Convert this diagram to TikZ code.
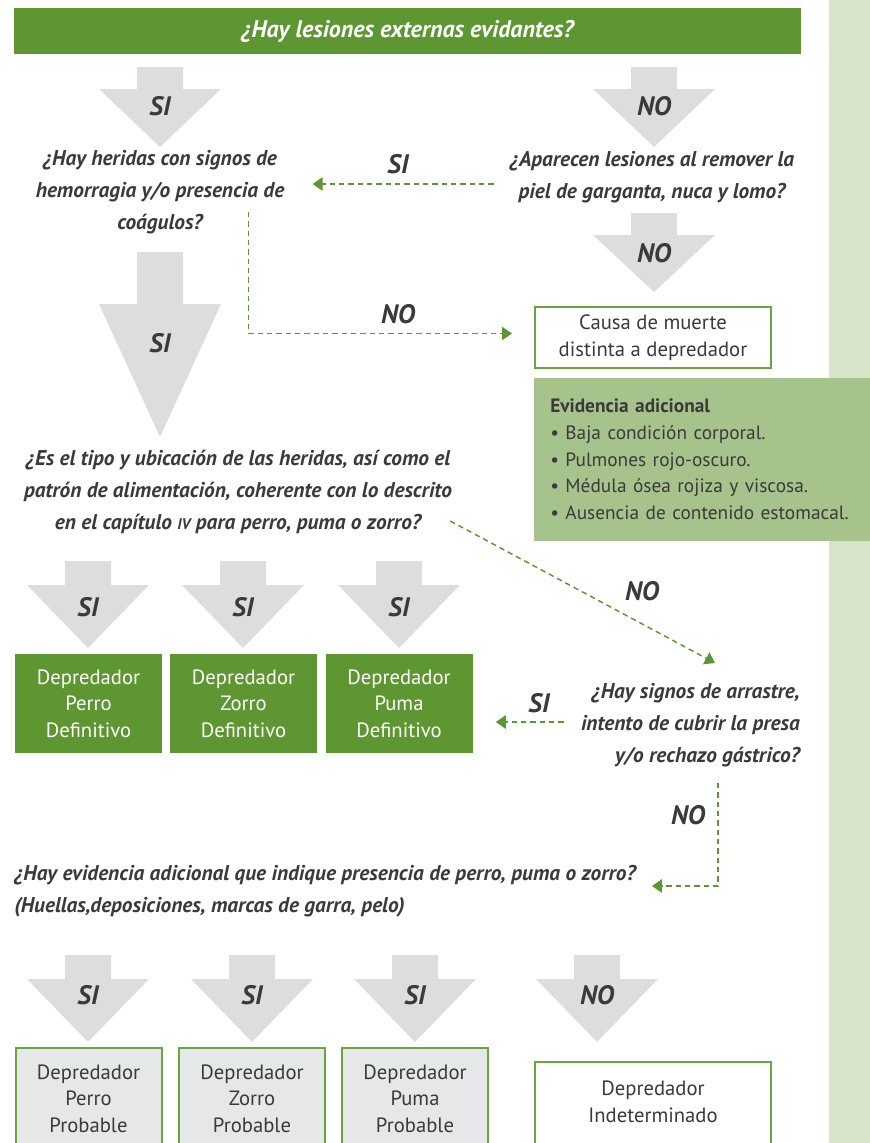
\documentclass[tikz,border=0pt]{standalone}
\usepackage{fontspec}
\setmainfont{PT Sans}
\usetikzlibrary{arrows.meta}

\definecolor{leafgreen}{HTML}{5E9732}
\definecolor{edgegreen}{HTML}{6AA63F}
\definecolor{palegreen}{HTML}{D6E4CA}
\definecolor{sagegreen}{HTML}{A6C38B}
\definecolor{arrowgray}{HTML}{DCDDDE}
\definecolor{boxgray}{HTML}{E6E7E8}
\definecolor{inkgray}{HTML}{3A3A3C}

\newcommand{\grayarrow}[4]{%
  \fill[arrowgray] (#1-23,#2) -- (#1+23,#2) -- (#1+23,#3) -- (#1+61,#3)
    -- (#1,#4) -- (#1-61,#3) -- (#1-23,#3) -- cycle;}

\begin{document}
\begin{tikzpicture}[x=0.75pt,y=-0.75pt]
  \tikzstyle{question}=[text=inkgray,align=center,inner sep=0pt,font=\fontsize{16}{24}\selectfont\bfseries\itshape]
  \tikzstyle{answer}=[text=inkgray,inner sep=0pt,font=\fontsize{20}{22}\selectfont\bfseries\itshape]
  \tikzstyle{dashlink}=[draw=leafgreen,line width=1.1pt,dash pattern=on 4pt off 3pt,-{Triangle[length=7.5pt,width=10pt]},leafgreen]
  \tikzstyle{definitive}=[fill=leafgreen,text=white,align=center,minimum width=110.25pt,minimum height=74.25pt,inner sep=0pt,font=\fontsize{15.5}{20}\selectfont]
  \tikzstyle{probable}=[fill=boxgray,draw=edgegreen,line width=1.5pt,text=inkgray,align=center,minimum width=109.5pt,minimum height=75.75pt,inner sep=0pt,font=\fontsize{15.5}{20}\selectfont]
  \tikzstyle{outcome}=[fill=white,draw=edgegreen,line width=1.5pt,text=inkgray,align=center,minimum width=177pt,inner sep=0pt,font=\fontsize{15.5}{20}\selectfont]

  \useasboundingbox (0,0) rectangle (870,1143);
  \fill[palegreen] (829,0) rectangle (870,1143);

  \node[fill=leafgreen,text=white,minimum width=590.25pt,minimum height=34.5pt,inner sep=0pt,font=\fontsize{18}{20}\selectfont\bfseries\itshape] (Lesiones) at (407.5,31) {¿Hay lesiones externas evidantes?};

  \grayarrow{160}{67}{89}{147}
  \node[answer] (SiLesiones) at (160,106) {SI};
  \grayarrow{654}{67}{89}{147}
  \node[answer] (NoLesiones) at (654,106) {NO};

  \node[question] (Heridas) at (160,192) {¿Hay heridas con signos de\\hemorragia y/o presencia de\\coágulos?};
  \node[question] (Remover) at (652,177) {¿Aparecen lesiones al remover la\\piel de garganta, nuca y lomo?};

  \draw[dashlink] ([shift={(-16,7)}]Remover.west) -- ([shift={(28,-8)}]Heridas.east);
  \node[answer] (SiRemover) at (398,164) {SI};

  \grayarrow{654}{213}{235}{292}
  \node[answer] (NoRemover) at (654,253) {NO};

  \node[outcome,minimum height=45.75pt] (Causa) at (653,337.5) {Causa de muerte\\distinta a depredador};

  \draw[dashlink] ([shift={(-36,20)}]Heridas.east) |- ([shift={(-22,-4)}]Causa.west);
  \node[answer] (NoHeridas) at (398,314) {NO};

  \node[fill=sagegreen,text=inkgray,align=left,text width=244pt,inner xsep=12pt,inner ysep=0pt,minimum height=122.25pt,anchor=west,font=\fontsize{14.5}{20}\selectfont] (Evidencia) at (534,459.5) {\textbf{Evidencia adicional}\\• Baja condición corporal.\\• Pulmones rojo-oscuro.\\• Médula ósea rojiza y viscosa.\\• Ausencia de contenido estomacal.};

  \grayarrow{160}{252}{304}{437}
  \node[answer] (SiHeridas) at (160,343) {SI};

  \node[question] (Coherente) at (238,492) {¿Es el tipo y ubicación de las heridas, así como el\\patrón de alimentación, coherente con lo descrito\\en el capítulo {\fontsize{11.5}{11.5}\selectfont IV} para perro, puma o zorro?};

  \node[question,align=right,anchor=east] (Arrastre) at (800,725) {¿Hay signos de arrastre,\\intento de cubrir la presa\\y/o rechazo gástrico?};

  \draw[dashlink] ([shift={(-2,29)}]Coherente.east) -- ([shift={(-85,-62)}]Arrastre.east);
  \node[answer] (NoCoherente) at (642,591) {NO};

  \grayarrow{88}{561}{585}{648}
  \node[answer] (SiPerro) at (88,607) {SI};
  \grayarrow{243}{561}{585}{648}
  \node[answer] (SiZorro) at (243,607) {SI};
  \grayarrow{399}{561}{585}{648}
  \node[answer] (SiPuma) at (399,607) {SI};

  \node[definitive] (PerroDef) at (88.5,703.5) {Depredador\\Perro\\Definitivo};
  \node[definitive] (ZorroDef) at (243.5,703.5) {Depredador\\Zorro\\Definitivo};
  \node[definitive] (PumaDef) at (399,703.5) {Depredador\\Puma\\Definitivo};

  \draw[dashlink] ([shift={(-17,-3)}]Arrastre.west) -- ([shift={(23,18.5)}]PumaDef.east);
  \node[answer] (SiArrastre) at (539,703) {SI};

  \node[question,align=left,anchor=west] (Adicional) at (14,891) {¿Hay evidencia adicional que indique presencia de perro, puma o zorro?\\(Huellas,deposiciones, marcas de garra, pelo)};

  \draw[dashlink] ([shift={(-82,58)}]Arrastre.east) |- ([shift={(16,-5)}]Adicional.east);
  \node[answer] (NoArrastre) at (688,815) {NO};

  \grayarrow{88}{955}{979}{1042}
  \node[answer] (SiPerroProb) at (88,995) {SI};
  \grayarrow{252}{955}{979}{1042}
  \node[answer] (SiZorroProb) at (252,995) {SI};
  \grayarrow{415}{955}{979}{1042}
  \node[answer] (SiPumaProb) at (415,995) {SI};
  \grayarrow{597}{955}{979}{1042}
  \node[answer] (NoAdicional) at (597,995) {NO};

  \node[probable] (PerroProb) at (88.5,1098.5) {Depredador\\Perro\\Probable};
  \node[probable] (ZorroProb) at (252,1098.5) {Depredador\\Zorro\\Probable};
  \node[probable] (PumaProb) at (415,1098.5) {Depredador\\Puma\\Probable};

  \node[outcome,minimum height=66pt] (Indeterminado) at (653,1106) {};
  \node[text=inkgray,align=center,inner sep=0pt,font=\fontsize{15.5}{20}\selectfont] (IndeterminadoText) at (653,1101.5) {Depredador\\Indeterminado};
\end{tikzpicture}
\end{document}
